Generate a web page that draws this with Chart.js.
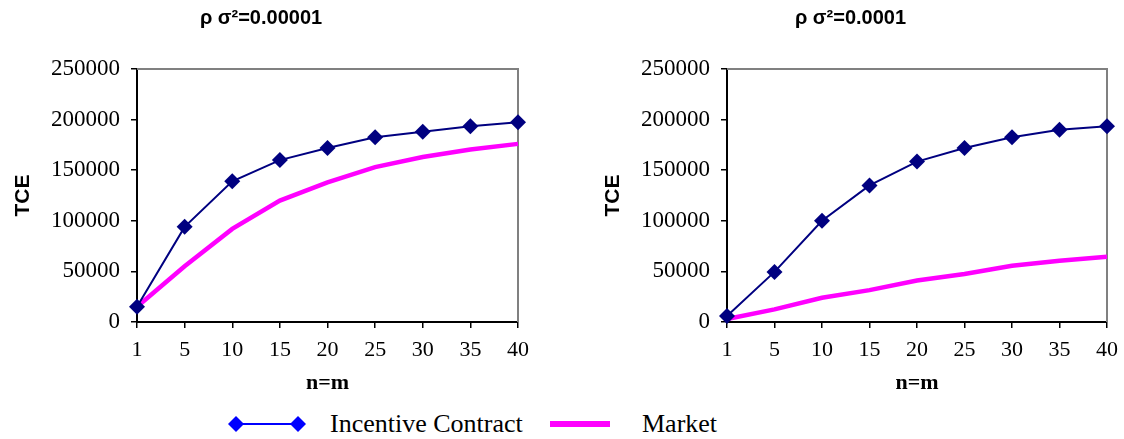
<!DOCTYPE html>
<html>
<head>
<meta charset="utf-8">
<script src="https://cdn.jsdelivr.net/npm/chart.js@4/dist/chart.umd.min.js"></script>
<style>
  html, body { margin: 0; padding: 0; background: #fff; overflow: hidden; width: 1124px; height: 439px; }
  canvas { position: absolute; top: 0; }
  #legend { position: absolute; left: 0; top: 408px; width: 1124px; height: 32px;
            font-family: "Liberation Serif", "Times New Roman", serif; font-size: 26px; line-height: 32px; color: #000; }
  #legend .txt { position: absolute; top: 0; white-space: nowrap; }
  #legend svg { position: absolute; }
</style>
</head>
<body>
<canvas id="left" width="545" height="400" style="left:0px"></canvas>
<canvas id="right" width="534" height="400" style="left:590px"></canvas>
<div id="legend">
  <svg width="82" height="20" style="left:226px; top:6px">
    <line x1="10" y1="10" x2="72" y2="10" stroke="#0000FF" stroke-width="2"/>
    <polygon points="10,2 18,10 10,18 2,10" fill="#0000FF"/>
    <polygon points="72,2 80,10 72,18 64,10" fill="#0000FF"/>
  </svg>
  <span class="txt" style="left:330px">Incentive Contract</span>
  <svg width="62" height="10" style="left:549px; top:11px">
    <rect x="1" y="2" width="60" height="6" fill="#FF00FF"/>
  </svg>
  <span class="txt" style="left:642px">Market</span>
</div>
<script>
// x categories (n = m)
const categories = ['1', '5', '10', '15', '20', '25', '30', '35', '40'];

// TCE, panel rho*sigma^2 = 0.00001
const incentiveLow = [15000, 94000, 139000, 160000, 172000, 182500, 188000, 193500, 197500];
const marketLow    = [15000, 55000, 92000, 120000, 138000, 153000, 163000, 170500, 176000];

// TCE, panel rho*sigma^2 = 0.0001
const incentiveHigh = [6000, 49500, 100000, 135000, 158500, 172000, 182500, 190000, 193500];
const marketHigh    = [3000, 12500, 24000, 31500, 41000, 47500, 55500, 60500, 64500];

const yMin = 0, yMax = 250000, yStep = 50000;
const titles = ['ρ σ²=0.00001', 'ρ σ²=0.0001'];
const seriesNames = ['Incentive Contract', 'Market'];
const xTitle = 'n=m';
const yTitle = 'TCE';

const SERIF = '"Liberation Serif", "Times New Roman", serif';
const SANS = '"Liberation Sans", Arial, sans-serif';

// grey top/right frame of the plot area
const framePlugin = {
  id: 'frame',
  beforeDatasetsDraw(chart) {
    const { ctx, chartArea: a } = chart;
    ctx.save();
    ctx.strokeStyle = '#808080';
    ctx.lineWidth = 2;
    ctx.beginPath();
    ctx.moveTo(a.left, a.top);
    ctx.lineTo(a.right, a.top);
    ctx.lineTo(a.right, a.bottom);
    ctx.stroke();
    ctx.restore();
  }
};

function makeChart(id, title, incentive, market, padRight) {
  return new Chart(document.getElementById(id), {
    type: 'line',
    data: {
      labels: categories,
      datasets: [
        {
          label: seriesNames[0],
          data: incentive,
          borderColor: '#000080',
          backgroundColor: '#000080',
          borderWidth: 2,
          pointStyle: 'rectRot',
          pointRadius: 8,
          pointHoverRadius: 8,
          pointBackgroundColor: '#000080',
          pointBorderColor: '#000080',
          pointBorderWidth: 0,
          tension: 0,
          clip: false,
          order: 1
        },
        {
          label: seriesNames[1],
          data: market,
          borderColor: '#FF00FF',
          borderWidth: 4.5,
          pointRadius: 0,
          pointHoverRadius: 0,
          tension: 0,
          clip: false,
          order: 2
        }
      ]
    },
    options: {
      responsive: false,
      animation: false,
      devicePixelRatio: 1,
      layout: { padding: { left: 4, right: padRight, top: 0, bottom: 0 } },
      plugins: {
        legend: { display: false },
        tooltip: { enabled: false },
        title: {
          display: true,
          text: title,
          color: '#000',
          font: { family: SANS, size: 20, weight: 'bold' },
          padding: { top: 6, bottom: 39 }
        }
      },
      scales: {
        x: {
          type: 'category',
          offset: false,
          grid: { drawOnChartArea: false, color: '#000', tickLength: 6, lineWidth: 1.5 },
          border: { color: '#000', width: 2 },
          ticks: {
            color: '#000', font: { family: SERIF, size: 22 },
            padding: 9, maxRotation: 0, autoSkip: false
          },
          title: {
            display: true, text: xTitle, color: '#000',
            font: { family: SERIF, size: 22, weight: 'bold' },
            padding: { top: 0, bottom: 3 }
          },
          afterFit(scale) {
            scale.height = 78;
            scale.paddingLeft = 0;
            scale.paddingRight = 0;
          }
        },
        y: {
          min: yMin, max: yMax,
          grid: { drawOnChartArea: false, color: '#000', tickLength: 6, lineWidth: 1.5 },
          border: { color: '#000', width: 2 },
          ticks: {
            stepSize: yStep, color: '#000',
            font: { family: SERIF, size: 23 }, padding: 11,
            callback: (v) => String(v)
          },
          title: {
            display: true, text: yTitle, color: '#000',
            font: { family: SANS, size: 21, weight: 'bold' },
            padding: { top: 7, bottom: 0 }
          },
          afterFit(scale) { scale.width = 133; }
        }
      }
    },
    plugins: [framePlugin]
  });
}

makeChart('left', titles[0], incentiveLow, marketLow, 27);
makeChart('right', titles[1], incentiveHigh, marketHigh, 17);
</script>
</body>
</html>
